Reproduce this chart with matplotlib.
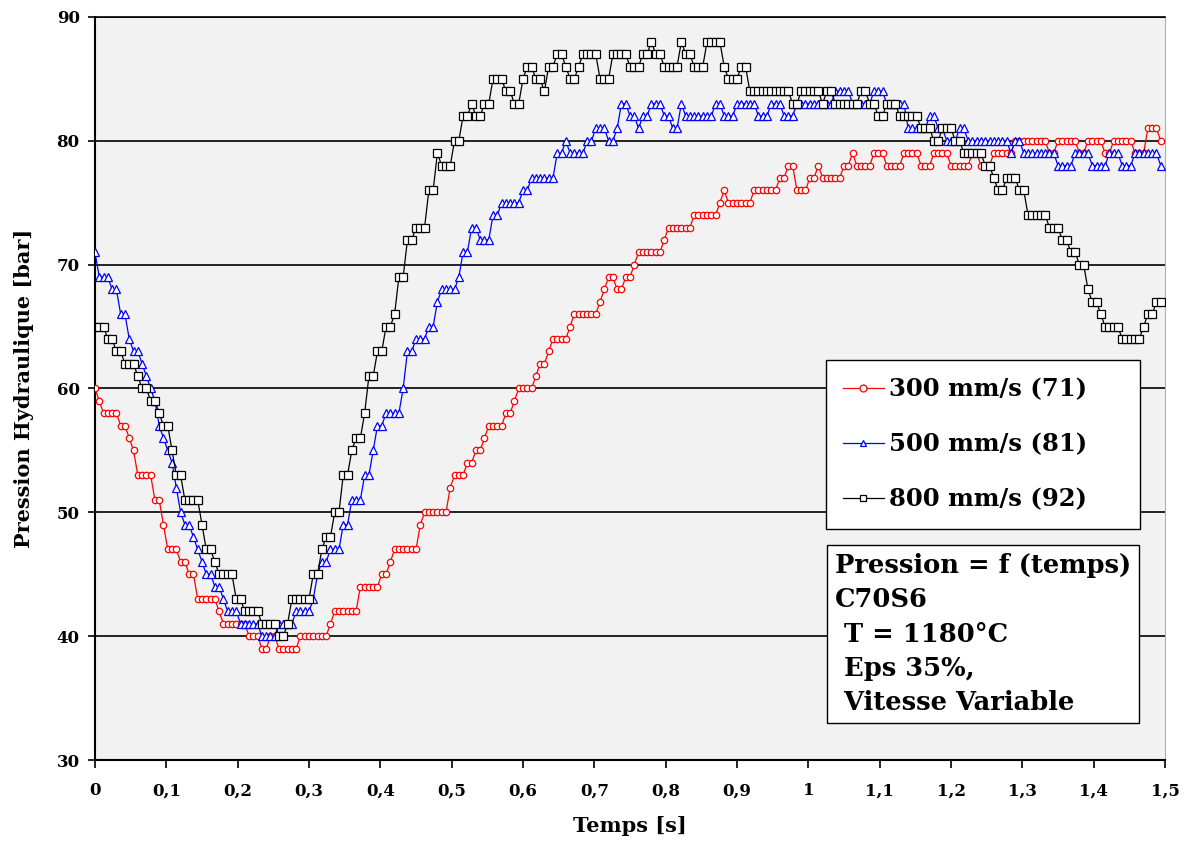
import matplotlib.pyplot as plt
import numpy as np

# sampling step of the acquisition [s]
dt = 0.006

# 300 mm/s : pressure plateaus [bar] and number of samples on each
red_levels = [60, 59, 58, 57, 56, 55, 53, 51, 49, 47, 46, 45, 43, 42, 41, 40, 39, 40, 39, 40,
              41, 42, 44, 45, 46, 47, 49, 50, 52, 53, 54, 55, 56, 57, 58, 59, 60, 61, 62, 63,
              64, 65, 66, 67, 68, 69, 68, 69, 70, 71, 72, 73, 74, 75, 76, 75, 76, 77, 78, 76,
              77, 78, 77, 78, 79, 78, 79, 78, 79, 78, 79, 78, 79, 78, 79, 80, 79, 80, 79, 80,
              79, 80, 79, 81, 80]
red_counts = [1, 1, 4, 2, 1, 1, 4, 2, 1, 3, 2, 2, 5, 1, 6, 3, 2, 2, 5, 7,
              1, 6, 5, 2, 1, 6, 1, 6, 1, 3, 2, 2, 1, 4, 2, 1, 4, 1, 2, 1,
              4, 1, 6, 1, 1, 2, 2, 2, 1, 6, 1, 6, 6, 1, 1, 6, 6, 2, 2, 3,
              2, 1, 5, 2, 1, 4, 3, 4, 4, 3, 4, 5, 2, 3, 5, 8, 2, 5, 2, 4,
              2, 5, 3, 3, 1]

# 500 mm/s
blue_levels = [71, 69, 68, 66, 64, 63, 62, 61, 60, 59, 57, 56, 55, 54, 52, 50, 49, 48, 47, 46,
               45, 44, 43, 42, 41, 40, 41, 42, 43, 45, 46, 47, 49, 51, 53, 55, 57, 58, 60, 63,
               64, 65, 67, 68, 69, 71, 73, 72, 74, 75, 76, 77, 79, 80, 79, 80, 81, 80, 81, 83,
               82, 81, 82, 83, 82, 81, 83, 82, 83, 82, 83, 82, 83, 82, 83, 84, 83, 84, 83, 81,
               82, 81, 80, 81, 80, 79, 80, 79, 78, 79, 78, 79, 78, 79, 78]
blue_counts = [1, 3, 2, 2, 1, 2, 1, 1, 1, 1, 1, 1, 1, 1, 1, 1, 2, 1, 1, 1,
               2, 2, 1, 3, 5, 4, 4, 4, 1, 1, 2, 3, 2, 3, 2, 1, 2, 4, 1, 2,
               3, 2, 1, 4, 1, 2, 2, 3, 2, 5, 2, 6, 2, 1, 4, 2, 3, 2, 1, 2,
               2, 1, 2, 3, 2, 2, 1, 7, 2, 3, 5, 3, 3, 3, 9, 4, 5, 3, 5, 5,
               2, 2, 3, 2, 10, 1, 2, 8, 4, 4, 4, 3, 3, 6, 1]

# 800 mm/s
black_levels = [65, 64, 63, 62, 61, 60, 59, 58, 57, 55, 53, 51, 49, 47, 46, 45, 43, 42, 41, 40,
                41, 43, 45, 47, 48, 50, 53, 55, 56, 58, 61, 63, 65, 66, 69, 72, 73, 76, 79, 78,
                80, 82, 83, 82, 83, 85, 84, 83, 85, 86, 85, 84, 86, 87, 86, 85, 86, 87, 85, 87,
                86, 87, 88, 87, 86, 88, 87, 86, 88, 86, 85, 86, 84, 83, 84, 83, 84, 83, 84, 83,
                82, 83, 82, 81, 80, 81, 80, 79, 78, 77, 76, 77, 76, 74, 73, 72, 71, 70, 68, 67,
                66, 65, 64, 65, 66, 67]
black_counts = [3, 2, 2, 3, 1, 2, 2, 1, 2, 1, 2, 4, 1, 2, 1, 4, 2, 4, 4, 2,
                1, 5, 2, 1, 2, 2, 2, 1, 2, 1, 2, 2, 2, 1, 2, 2, 3, 2, 1, 3,
                2, 2, 1, 2, 2, 3, 2, 2, 1, 2, 2, 1, 2, 2, 1, 2, 1, 4, 3, 4,
                3, 2, 1, 2, 4, 1, 2, 3, 4, 1, 3, 2, 10, 2, 5, 1, 2, 6, 2, 2,
                2, 3, 5, 3, 2, 3, 2, 5, 2, 1, 2, 3, 2, 5, 3, 2, 2, 2, 1, 2,
                1, 4, 5, 1, 2, 2]

labels = ['300 mm/s (71)', '500 mm/s (81)', '800 mm/s (92)']
x_ticks = [0, 0.1, 0.2, 0.3, 0.4, 0.5, 0.6, 0.7, 0.8, 0.9, 1.0, 1.1, 1.2, 1.3, 1.4, 1.5]
x_ticklabels = ['0', '0,1', '0,2', '0,3', '0,4', '0,5', '0,6', '0,7', '0,8', '0,9',
                '1', '1,1', '1,2', '1,3', '1,4', '1,5']
y_ticks = [30, 40, 50, 60, 70, 80, 90]
info = 'Pression = f (temps)\nC70S6\n T = 1180°C\n Eps 35%,\n Vitesse Variable'

serif = 'DejaVu Serif'

fig = plt.figure(figsize=(11.86, 8.41), dpi=100)
ax = fig.add_axes([0.0801, 0.0963, 0.9022, 0.8835])
ax.set_facecolor('#f2f2f2')

series = [(red_levels, red_counts, 'red', 'o', 4.6),
          (blue_levels, blue_counts, 'blue', '^', 5.2),
          (black_levels, black_counts, 'black', 's', 5.2)]
for (lev, cnt, col, mk, ms), lab in zip(series, labels):
    y = np.repeat(lev, cnt)
    t = np.arange(len(y)) * dt
    ax.plot(t, y, '-', color=col, marker=mk, ms=ms, mfc='white', mec=col,
            mew=0.9, lw=0.9, label=lab, zorder=3)

ax.set_xlim(0, 1.5)
ax.set_ylim(30, 90)
ax.set_xticks(x_ticks)
ax.set_xticklabels(x_ticklabels)
ax.set_yticks(y_ticks)
ax.yaxis.grid(True, color='black', lw=1.2)
ax.set_axisbelow(True)
for lab in ax.get_xticklabels() + ax.get_yticklabels():
    lab.set_fontfamily(serif)
    lab.set_fontweight('bold')
    lab.set_fontsize(12)
ax.tick_params(axis='x', direction='out', length=6, width=1.2, pad=10)
ax.tick_params(axis='y', direction='out', length=5, width=1.2, pad=6)

ax.spines['left'].set_linewidth(1.5)
ax.spines['bottom'].set_linewidth(1.5)
ax.spines['top'].set_linewidth(1.2)
ax.spines['right'].set_color('#b0b0b0')

ax.set_xlabel('Temps [s]', fontfamily=serif, fontweight='bold', fontsize=15, labelpad=12)
ax.set_ylabel('Pression Hydraulique [bar]', fontfamily=serif, fontweight='bold',
              fontsize=15, labelpad=16)

leg = ax.legend(loc='upper left', bbox_to_anchor=(0.683, 0.312, 0.294, 0.226),
                mode='expand', borderaxespad=0,
                frameon=True, fancybox=False, edgecolor='black', framealpha=1,
                borderpad=0.7, labelspacing=1.28, handlelength=1.7, handletextpad=0.2,
                prop={'family': serif, 'weight': 'bold', 'size': 17.5})
leg.get_frame().set_linewidth(1.0)
for h in leg.legend_handles:
    h.set_markersize(5)

ax.text(0.6916, 0.279, info, transform=ax.transAxes, va='top', ha='left',
        fontfamily=serif, fontweight='bold', fontsize=18.5, linespacing=1.47,
        bbox=dict(boxstyle='square,pad=0.3', fc='white', ec='black', lw=1.0), zorder=5)

fig.savefig('out.png', dpi=100)
